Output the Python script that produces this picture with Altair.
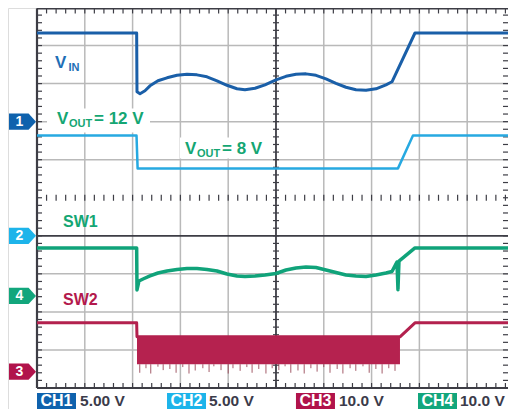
import altair as alt
import numpy as np
import pandas as pd

# ---------------- channel settings ----------------
channels = ["CH1", "CH2", "CH3", "CH4"]
volts_per_div = [5.0, 5.0, 10.0, 10.0]
ground_div = [7.0, 4.0, 0.43, 2.42]          # ground marker level (divisions from bottom)
marker_nums = ["1", "2", "3", "4"]
scale_labels = ["5.00 V", "5.00 V", "10.0 V", "10.0 V"]
channel_colors = ["#0f62ad", "#1db4ea", "#b1134b", "#12a67c"]

# ---------------- traces (time in divisions, volts) ----------------
vin_t = [0.0, 2.085, 2.092, 2.155, 2.259, 2.364, 2.531, 2.720, 2.929, 3.138, 3.347,
         3.556, 3.766, 3.975, 4.184, 4.351, 4.561, 4.770, 5.000, 5.209, 5.418, 5.628,
         5.837, 6.046, 6.255, 6.464, 6.674, 6.883, 7.092, 7.301, 7.427, 7.908, 10.0]
vin_v = [11.65, 11.65, 3.93, 3.67, 4.06, 4.71, 5.37, 5.76, 6.09, 6.22, 6.15,
         5.89, 5.37, 4.78, 4.32, 4.19, 4.39, 4.84, 5.50, 5.96, 6.22, 6.28,
         6.09, 5.63, 5.04, 4.52, 4.19, 4.12, 4.32, 4.84, 5.24, 11.65, 11.65]

vout_t = [0.0, 2.082, 2.105, 7.552, 7.866, 10.0]
vout_v = [13.18, 13.18, 8.86, 8.86, 13.18, 13.18]

sw1_t = [0.0, 2.085, 2.092, 2.134, 2.218, 2.364, 2.531, 2.720, 2.929, 3.138, 3.347,
         3.556, 3.766, 3.975, 4.184, 4.351, 4.561, 4.770, 5.000, 5.209, 5.418, 5.628,
         5.837, 6.046, 6.255, 6.464, 6.674, 6.883, 7.092, 7.301, 7.427, 7.531, 7.552,
         7.573, 7.908, 10.0]
sw1_v = [12.6, 12.6, 1.57, 3.93, 4.45, 5.24, 6.02, 6.55, 6.94, 7.20, 7.20,
         6.94, 6.55, 5.76, 5.24, 5.11, 5.24, 5.50, 5.89, 6.81, 7.33, 7.59,
         7.46, 6.81, 6.15, 5.50, 5.24, 5.11, 5.50, 6.02, 6.41, 8.90, 1.65,
         9.16, 12.6, 12.6]

sw2_t = [0.0, 2.085, 2.092, 7.594, 7.908, 10.0]
sw2_v = [12.83, 12.83, 9.16, 9.16, 12.83, 12.83]

# switching band of SW2 and its downward spikes
band_t = [2.092, 7.594]
band_v = [9.16, 1.96]
spike_t = [2.15, 2.28, 2.38, 2.53, 2.64, 2.78, 2.91, 3.05, 3.18, 3.31, 3.47, 3.60, 3.70,
           3.85, 4.00, 4.10, 4.25, 4.39, 4.50, 4.64, 4.79, 4.92, 5.06, 5.19, 5.31, 5.46,
           5.59, 5.73, 5.86, 6.00, 6.13, 6.28, 6.40, 6.55, 6.67, 6.82, 6.95, 7.09, 7.22,
           7.36, 7.49]
spike_v = [-0.3, 0.9, -0.5, 1.3, 0.4, 0.7, -0.3, 1.2, -0.5, 0.3, 0.9, -0.1, 1.4,
           0.4, -0.5, 0.9, 0.2, 1.2, -0.3, 0.7, -0.5, 0.9, 0.4, 1.4, -0.3, 0.3,
           -0.5, 0.9, 0.0, 1.2, -0.3, 0.7, -0.5, 0.9, 0.2, 1.4, -0.3, 0.7, -0.5,
           0.9, 0.2]

# ---------------- annotations ----------------
lbl_text = ["V", "IN", "V", "OUT", "= 12 V", "V", "OUT", "= 8 V", "SW1", "SW2"]
lbl_t = [0.377, 0.659, 0.418, 0.669, 1.192, 3.096, 3.347, 3.870, 0.544, 0.544]
lbl_y = [8.416, 8.325, 6.950, 6.872, 6.950, 6.152, 6.060, 6.152, 4.228, 2.186]
lbl_group = ["vin", "vin_s", "vout", "vout_s", "vout", "vout", "vout_s", "vout", "sw1", "sw2"]

mask_t0 = [0.209, 2.992]
mask_t1 = [2.364, 4.791]
mask_y0 = [6.715, 6.034]
mask_y1 = [7.343, 6.584]

legend_box_t0 = [0.0, 2.720, 5.418, 7.971]
legend_box_t1 = [0.816, 3.536, 6.234, 8.787]
legend_val_t = [0.900, 3.598, 6.318, 8.849]

# ---------------- scales ----------------
XS = alt.Scale(domain=[-0.6067, 9.854], nice=False, zero=False)
YS = alt.Scale(domain=[-0.552, 9.987], nice=False, zero=False)


def X(f):
    return alt.X(f, type="quantitative", scale=XS, axis=None)


def Y(f):
    return alt.Y(f, type="quantitative", scale=YS, axis=None)


GRAY = "#b9b9b9"
DARK = "#3d3d45"
FONT = "Liberation Sans"


def rules(df, color, width):
    return alt.Chart(df).mark_rule(color=color, strokeWidth=width).encode(
        x=X("x0"), x2=alt.X2("x1"), y=Y("y0"), y2=alt.Y2("y1"))


# graticule
vgrid = pd.DataFrame({"x0": [1, 2, 3, 4, 6, 7, 8, 9]})
vgrid["x1"] = vgrid["x0"]; vgrid["y0"] = 0.0; vgrid["y1"] = 10.0
hgrid = pd.DataFrame({"y0": [1, 2, 3, 6, 7, 8, 9]})
hgrid["y1"] = hgrid["y0"]; hgrid["x0"] = 0.0; hgrid["x1"] = 10.0
dark_lines = pd.DataFrame({"x0": [5.0, 0.0], "x1": [5.0, 10.0], "y0": [0.0, 4.0], "y1": [10.0, 4.0]})
border = pd.DataFrame({"x0": [0.0, 0.0, 0.0], "x1": [0.0, 10.0, 10.0],
                       "y0": [0.0, 9.975, 0.0], "y1": [9.975, 9.975, 0.0]})

steps = np.round(np.arange(0, 10.001, 0.2), 3)
LX, LY, HX, HY = 0.105, 0.131, 0.063, 0.079
tick_frames = [
    pd.DataFrame({"x0": 0.0, "x1": LX, "y0": steps, "y1": steps}),
    pd.DataFrame({"x0": 9.854 - LX, "x1": 9.854, "y0": steps, "y1": steps}),
    pd.DataFrame({"x0": 5.0 - HX, "x1": 5.0 + HX, "y0": steps, "y1": steps}),
    pd.DataFrame({"x0": steps, "x1": steps, "y0": 9.975 - LY, "y1": 9.975}),
    pd.DataFrame({"x0": steps, "x1": steps, "y0": 0.0, "y1": LY}),
    pd.DataFrame({"x0": steps, "x1": steps, "y0": 5.0 - HY, "y1": 5.0 + HY}),
]
ticks = pd.concat(tick_frames, ignore_index=True)

# traces table
ch_info = pd.DataFrame({"ch": channels, "vdiv": volts_per_div, "gnd": ground_div})


def trace(name, t, v, ch):
    d = pd.DataFrame({"trace": name, "t": t, "v": v, "ch": ch, "order": range(len(t))})
    return d.merge(ch_info, on="ch")


def trace_line(d, color, width):
    return alt.Chart(d).transform_calculate(
        yd="datum.gnd + datum.v / datum.vdiv"
    ).mark_line(color=color, strokeWidth=width, strokeJoin="round").encode(
        x=X("t"), y=Y("yd"), order=alt.Order("order:Q"))


vin_df = trace("VIN", vin_t, vin_v, "CH1")
vout_df = trace("VOUT", vout_t, vout_v, "CH2")
sw1_df = trace("SW1", sw1_t, sw1_v, "CH4")
sw2_df = trace("SW2", sw2_t, sw2_v, "CH3")

band_df = pd.DataFrame({"t0": [band_t[0]], "t1": [band_t[1]], "v0": [band_v[0]], "v1": [band_v[1]],
                        "ch": ["CH3"]}).merge(ch_info, on="ch")
band = alt.Chart(band_df).transform_calculate(
    y0="datum.gnd + datum.v0 / datum.vdiv", y1="datum.gnd + datum.v1 / datum.vdiv"
).mark_rect(color="#b5224f").encode(x=X("t0"), x2=alt.X2("t1"), y=Y("y0"), y2=alt.Y2("y1"))

spike_df = pd.DataFrame({"t": spike_t, "v": spike_v, "ch": "CH3"}).merge(ch_info, on="ch")
spike_df["vtop"] = band_v[1]
spikes = alt.Chart(spike_df).transform_calculate(
    y0="datum.gnd + datum.vtop / datum.vdiv", y1="datum.gnd + datum.v / datum.vdiv"
).mark_rule(color="#93404f", strokeWidth=1, opacity=0.85).encode(x=X("t"), y=Y("y0"), y2=alt.Y2("y1"))

masks = alt.Chart(pd.DataFrame({"t0": mask_t0, "t1": mask_t1, "y0": mask_y0, "y1": mask_y1})).mark_rect(
    color="white").encode(x=X("t0"), x2=alt.X2("t1"), y=Y("y0"), y2=alt.Y2("y1"))

lbl_df = pd.DataFrame({"t": lbl_t, "y": lbl_y, "text": lbl_text, "g": lbl_group})


def labels(group, size, color):
    return alt.Chart(lbl_df).transform_filter(alt.datum.g == group).mark_text(
        align="left", baseline="alphabetic", font=FONT, fontWeight="bold", fontSize=size, color=color
    ).encode(x=X("t"), y=Y("y"), text="text:N")


# channel ground markers
mk_df = pd.DataFrame({"ch": channels, "num": marker_nums, "color": channel_colors}).merge(ch_info, on="ch")
mk_df["v"] = 0.0
mk_df["tm"] = -0.303
mk_df["tn"] = -0.366
ARROW = "M-1,-0.6L0.45,-0.6L1,0L0.45,0.6L-1,0.6Z"
markers = alt.Chart(mk_df).transform_calculate(
    yd="datum.gnd + datum.v / datum.vdiv"
).mark_point(shape=ARROW, size=729, filled=True, opacity=1, strokeWidth=0).encode(
    x=X("tm"), y=Y("yd"), color=alt.Color("color:N", scale=None))
marker_txt = alt.Chart(mk_df).transform_calculate(
    yd="datum.gnd + datum.v / datum.vdiv"
).mark_text(font=FONT, fontWeight="bold", fontSize=14, color="white", align="center",
            baseline="middle").encode(x=X("tn"), y=Y("yd"), text="num:N")

# bottom legend
leg_df = pd.DataFrame({"ch": channels, "val": scale_labels, "color": channel_colors,
                       "b0": legend_box_t0, "b1": legend_box_t1, "vt": legend_val_t})
leg_df["bc"] = (leg_df["b0"] + leg_df["b1"]) / 2
leg_df["ytop"] = -0.131
leg_df["ybot"] = -0.552
leg_df["ytxt"] = -0.486
leg_box = alt.Chart(leg_df).mark_rect().encode(
    x=X("b0"), x2=alt.X2("b1"), y=Y("ytop"), y2=alt.Y2("ybot"), color=alt.Color("color:N", scale=None))
leg_name = alt.Chart(leg_df).mark_text(font=FONT, fontWeight="bold", fontSize=16, color="white",
                                       align="center", baseline="alphabetic").encode(
    x=X("bc"), y=Y("ytxt"), text="ch:N")
leg_val = alt.Chart(leg_df).mark_text(font=FONT, fontWeight="bold", fontSize=15.5, color="#3b3b4a",
                                      align="left", baseline="alphabetic").encode(
    x=X("vt"), y=Y("ytxt"), text="val:N")

chart = alt.layer(
    rules(vgrid, GRAY, 1.5),
    rules(hgrid, GRAY, 1.5),
    rules(ticks, DARK, 1.2),
    rules(dark_lines, DARK, 1.8),
    rules(border, DARK, 2.2),
    masks,
    trace_line(vin_df, "#1a5fa8", 3),
    trace_line(vout_df, "#27a9e1", 2.5),
    trace_line(sw2_df, "#b3214e", 3),
    band,
    spikes,
    trace_line(sw1_df, "#10a37a", 3.5),
    labels("vin", 17, "#1f6fb6"),
    labels("vin_s", 11, "#1f6fb6"),
    labels("vout", 17, "#14a673"),
    labels("vout_s", 11, "#14a673"),
    labels("sw1", 16, "#14a673"),
    labels("sw2", 16, "#b3194d"),
    markers,
    marker_txt,
    leg_box,
    leg_name,
    leg_val,
).properties(
    width=500, height=401, padding=0, autosize=alt.AutoSizeParams(type="none")
).configure_view(stroke=None).configure(background="white")

chart.save("out.html", embed_options={"renderer": "svg", "actions": False})
